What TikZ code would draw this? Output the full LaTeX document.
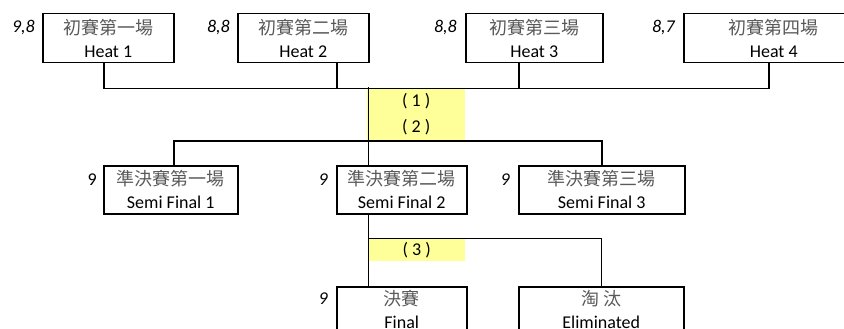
\documentclass[tikz,border=0pt]{standalone}
\usepackage{fontspec}
\setmainfont{Carlito}
\newfontfamily\cjk{Noto Sans CJK TC}
\definecolor{hilite}{HTML}{FFFF99}
\definecolor{cjkgray}{HTML}{595959}
\newcommand{\twoline}[2]{{\color{cjkgray}\cjk #1}\\#2}
\begin{document}
\begin{tikzpicture}[x=1pt, y=-1pt]
  \tikzstyle{box} = [draw, line width=1.5pt, minimum height=49pt, inner sep=0pt, align=center, anchor=north west, font=\fontsize{18}{23}\selectfont]
  \tikzstyle{wire} = [line width=1.5pt]
  \tikzstyle{score} = [anchor=base east, inner sep=0pt, font=\fontsize{18}{22}\selectfont\itshape]
  \tikzstyle{stage} = [fill=hilite, inner sep=0pt, align=center, anchor=north west, font=\fontsize{18}{26}\selectfont]
  \useasboundingbox (0,0) rectangle (844,329);
  \clip (0,0) rectangle (844,329);
  % heats
  \node[box, minimum width=131pt] (h1) at (42,13) {\twoline{初賽第一場}{Heat 1}};
  \node[box, minimum width=131pt] (h2) at (237,13) {\twoline{初賽第二場}{Heat 2}};
  \node[box, minimum width=137pt] (h3) at (465,13) {\twoline{初賽第三場}{Heat 3}};
  \node[box, minimum width=180pt] (h4) at (683,13) {\twoline{初賽第四場}{Heat 4}};
  \node[score] at ([xshift=-7pt, yshift=-20pt]h1.north west) {9,8};
  \node[score] at ([xshift=-7pt, yshift=-20pt]h2.north west) {8,8};
  \node[score] at ([xshift=-8pt, yshift=-20pt]h3.north west) {8,8};
  \node[score] at ([xshift=-8pt, yshift=-20pt]h4.north west) {8,7};
  % semi finals
  \node[box, minimum width=134pt, minimum height=48pt] (s1) at (103,165) {\twoline{準決賽第一場}{Semi Final 1}};
  \node[box, minimum width=130pt, minimum height=48pt] (s2) at (336,165) {\twoline{準決賽第二場}{Semi Final 2}};
  \node[box, minimum width=166pt, minimum height=48pt] (s3) at (518,165) {\twoline{準決賽第三場}{Semi Final 3}};
  \node[score, font=\fontsize{18}{22}\selectfont] at ([xshift=-6pt, yshift=-20pt]s1.north west) {9};
  \node[score] at ([xshift=-8pt, yshift=-20pt]s2.north west) {9};
  \node[score] at ([xshift=-8pt, yshift=-20pt]s3.north west) {9};
  % final
  \node[box, minimum width=130pt, minimum height=45pt] (fin) at (336,286) {\twoline{決賽}{Final}};
  \node[box, minimum width=165pt, minimum height=45pt] (elim) at (518,286) {\twoline{淘 汰}{Eliminated}};
  \node[score] at ([xshift=-8pt, yshift=-18pt]fin.north west) {9};
  % rounds
  \node[stage, minimum width=98pt, minimum height=52pt] (r12) at (367,88) {( 1 )\\( 2 )};
  \node[stage, minimum width=97pt, minimum height=23pt] (r3) at (368,238) {( 3 )};
  % wires
  \draw[wire] ([xshift=-4.5pt]h1.south) -- ++(0,25) -| ([xshift=-5pt]h4.south);
  \draw[wire] ([xshift=33.5pt]h2.south) -- ++(0,25);
  \draw[wire] ([xshift=-15.5pt]h3.south) -- ++(0,25);
  \draw[wire] ([xshift=-33.5pt]s2.north) -- ++(0,-78);
  \draw[wire] ([xshift=3pt]s1.north) -- ++(0,-24) -| (s3.north);
  \draw[wire] ([xshift=-33.5pt]s2.south) -- ([xshift=-33.5pt]fin.north);
  \draw[wire] ([xshift=-33.5pt]s2.south) -- ++(0,24) -| (elim.north);
\end{tikzpicture}
\end{document}
